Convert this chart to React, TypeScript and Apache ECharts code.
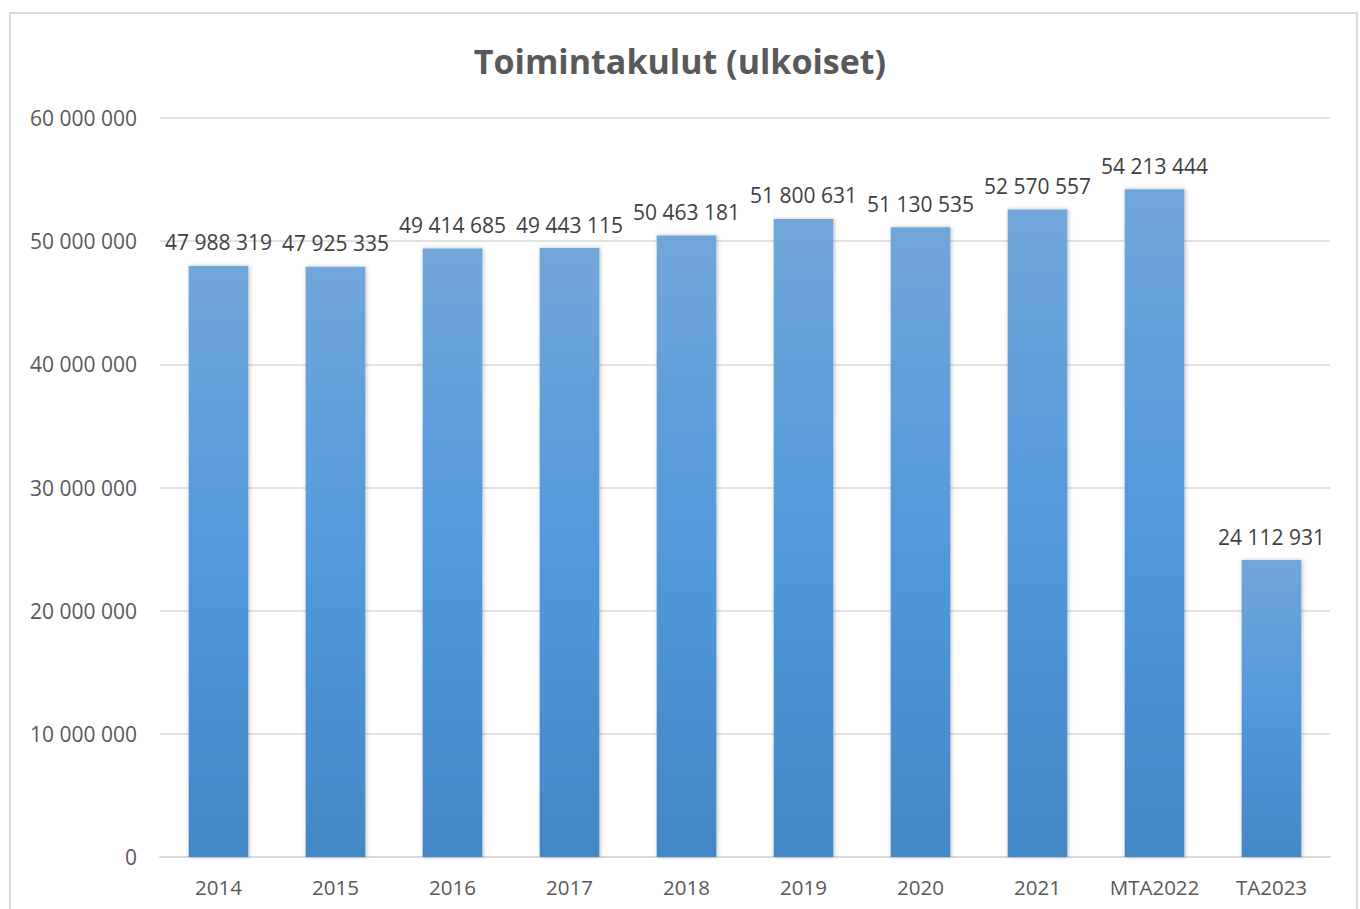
import React, { useEffect, useRef } from "react";
import * as echarts from "echarts";

const categories = ["2014", "2015", "2016", "2017", "2018", "2019", "2020", "2021", "MTA2022", "TA2023"];
const values = [47988319, 47925335, 49414685, 49443115, 50463181, 51800631, 51130535, 52570557, 54213444, 24112931];
const titleText = "Toimintakulut (ulkoiset)";

const fmt = (v: number) => String(Math.round(v)).replace(/\B(?=(\d{3})+(?!\d))/g, " ");

export default function App() {
  const ref = useRef<HTMLDivElement>(null);
  useEffect(() => {
    if (!ref.current) return;
    const chart = echarts.init(ref.current, null, { renderer: "svg" });
    const font = "'Open Sans', 'Noto Sans', sans-serif";
    chart.setOption({
      animation: false,
      backgroundColor: "#ffffff",
      title: {
        text: titleText,
        left: "center",
        top: 39,
        textStyle: { fontFamily: font, fontSize: 34, fontWeight: "bold", color: "#595959" },
      },
      graphic: [
        {
          type: "rect",
          shape: { x: 10, y: 13, width: 1347, height: 910 },
          style: { fill: "none", stroke: "#d9d9d9", lineWidth: 2 },
          silent: true,
        },
      ],
      grid: { left: 160, right: 30, top: 118, bottom: 52, containLabel: false },
      xAxis: {
        type: "category",
        data: categories,
        axisLine: { lineStyle: { color: "#d9d9d9", width: 2 } },
        axisTick: { show: false },
        axisLabel: { color: "#595959", fontFamily: font, fontSize: 20.5, margin: 19 },
      },
      yAxis: {
        type: "value",
        min: 0,
        max: 60000000,
        interval: 10000000,
        axisLine: { show: false },
        axisTick: { show: false },
        splitLine: { lineStyle: { color: "#d9d9d9", width: 1.5 } },
        axisLabel: { color: "#595959", fontFamily: font, fontSize: 21, margin: 23, formatter: (v: number) => fmt(v) },
      },
      series: [
        {
          type: "bar",
          data: values,
          barWidth: "51%",
          itemStyle: {
            color: new echarts.graphic.LinearGradient(0, 0, 0, 1, [
              { offset: 0, color: "#72a6d9" },
              { offset: 0.5, color: "#5299dc" },
              { offset: 1, color: "#4387c6" },
            ]),
            shadowBlur: 4,
            shadowColor: "rgba(0,0,0,0.25)",
            shadowOffsetX: 1,
          },
          label: {
            show: true,
            position: "top",
            distance: 13,
            color: "#404040",
            fontFamily: font,
            fontSize: 21,
            formatter: (p: any) => fmt(p.value),
          },
        },
      ],
    });
    return () => chart.dispose();
  }, []);
  return <div ref={ref} style={{ position: "fixed", left: 0, top: 0, width: 1360, height: 909 }} />;
}
